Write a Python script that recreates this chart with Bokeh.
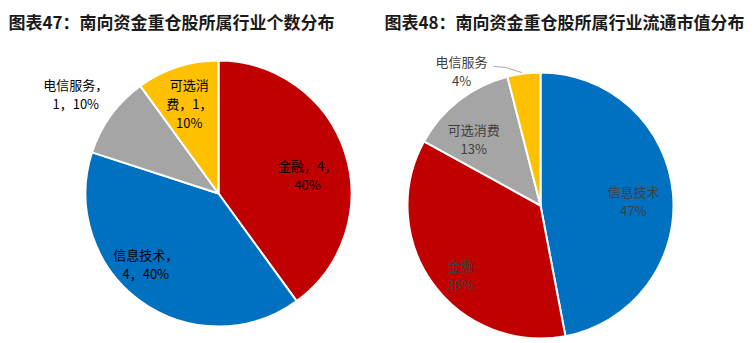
import math
from bokeh.plotting import figure
from bokeh.models import Range1d, ColumnDataSource
from bokeh.core.properties import value
from bokeh.embed import file_html
from bokeh.resources import INLINE

# ---------------- data ----------------
title_left = "图表47：南向资金重仓股所属行业个数分布"
title_right = "图表48：南向资金重仓股所属行业流通市值分布"

left_categories = ["金融", "信息技术", "电信服务", "可选消费"]
left_counts = [4, 4, 1, 1]
left_pcts = [40, 40, 10, 10]

right_categories = ["信息技术", "金融", "可选消费", "电信服务"]
right_pcts = [47, 36, 13, 4]

colors_left = ["#C00000", "#0070C0", "#A5A5A5", "#FFC000"]
colors_right = ["#0070C0", "#C00000", "#A5A5A5", "#FFC000"]

# ---------------- layout ----------------
W, H = 755, 343
FONT = "Noto Sans CJK SC"
R = 133
left_center = (218, H - 193)
right_center = (540, H - 205)
# label placement: (angle in degrees clockwise from 12 o'clock, radius factor)
left_label_pos = [(78, 0.685), (226, 0.76), (305, 1.31), (342, 0.71)]
left_breaks = [[5], [5], [5], [3, 7]]
right_label_pos = [(87, 0.70), (229, 0.80), (315, 0.71), (329.5, 1.17)]

p = figure(width=W, height=H, x_range=Range1d(0, W), y_range=Range1d(0, H),
           x_axis_type=None, y_axis_type=None, toolbar_location=None,
           output_backend="svg", min_border=0)
p.min_border_left = p.min_border_right = p.min_border_top = p.min_border_bottom = 0
p.grid.visible = False
p.outline_line_color = None
p.background_fill_color = "white"
p.border_fill_color = "white"


def wedges(center, values, colors):
    total = float(sum(values))
    starts, ends, cum = [], [], 0.0
    for v in values:
        a0 = math.pi / 2 - cum / total * 2 * math.pi
        cum += v
        a1 = math.pi / 2 - cum / total * 2 * math.pi
        starts.append(a0)
        ends.append(a1)
    src = ColumnDataSource(dict(x=[center[0]] * len(values), y=[center[1]] * len(values),
                                s=starts, e=ends, c=colors))
    p.wedge(x="x", y="y", radius=R, start_angle="s", end_angle="e", direction="clock",
            fill_color="c", line_color="white", line_width=2, source=src)


def polar(center, deg, f):
    a = math.radians(deg)
    return center[0] + R * f * math.sin(a), center[1] + R * f * math.cos(a)


wedges(left_center, left_pcts, colors_left)
wedges(right_center, right_pcts, colors_right)

# left labels
lx, ly, lt = [], [], []
for cat, n, pc, pos, br in zip(left_categories, left_counts, left_pcts, left_label_pos, left_breaks):
    full = f"{cat}，{n}，{pc}%"
    parts, prev = [], 0
    for b in br:
        parts.append(full[prev:b])
        prev = b
    parts.append(full[prev:])
    x, y = polar(left_center, *pos)
    lx.append(x)
    ly.append(y)
    lt.append("\n".join(parts))
p.text(x=lx, y=ly, text=lt, text_font=value(FONT), text_font_size="13px",
       text_color="#000000", text_align="center", text_baseline="middle",
       text_line_height=1.0)

# right labels
rx, ry, rt = [], [], []
for cat, pc, pos in zip(right_categories, right_pcts, right_label_pos):
    x, y = polar(right_center, *pos)
    rx.append(x)
    ry.append(y)
    rt.append(f"{cat}\n{pc}%")
p.text(x=rx, y=ry, text=rt, text_font=value(FONT), text_font_size="13px",
       text_color="#404040", text_align="center", text_baseline="middle",
       text_line_height=1.0)

# leader line for the small slice (电信服务)
total_r = float(sum(right_pcts))
mid_small = (sum(right_pcts[:3]) + right_pcts[3] / 2) / total_r * 360
ex, ey = polar(right_center, mid_small, 1.0)
sx, sy = rx[3] + 32, ry[3] + 5
p.line(x=[sx, sx + 12, ex - 2], y=[sy, sy - 1, ey + 1], line_color="#A6A6A6", line_width=1)

# titles
p.text(x=[8, 384], y=[H - 21, H - 21], text=[title_left, title_right],
       text_font=value(FONT), text_font_size="17px", text_font_style="bold",
       text_color="#1a1a1a", text_align="left", text_baseline="middle")

open("out.html", "w").write(file_html(p, INLINE))
